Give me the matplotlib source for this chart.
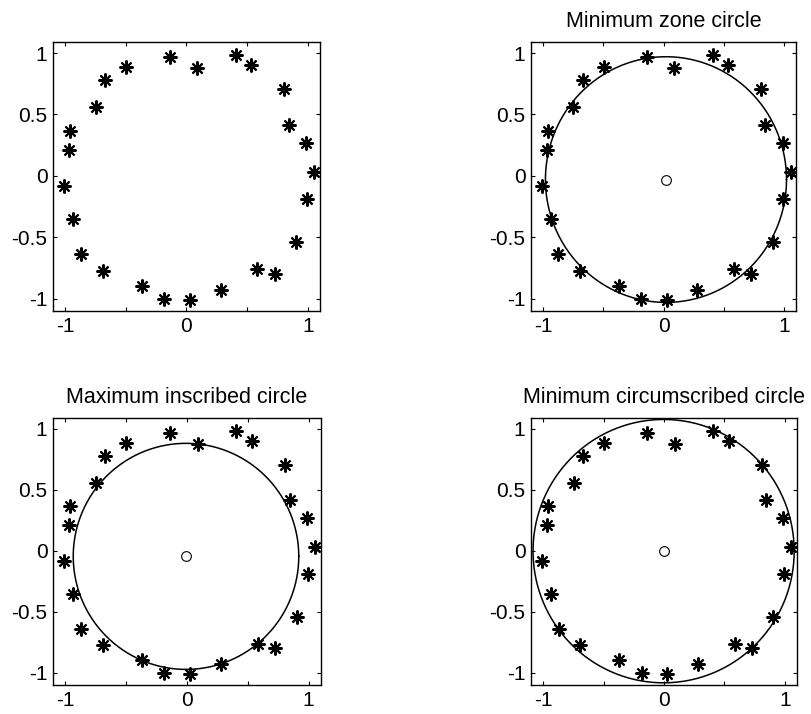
import matplotlib
matplotlib.use('Agg')
import matplotlib.pyplot as plt
import numpy as np

x_pts = [-0.138, 0.088, 0.408, 0.535, 0.808, 0.844, 0.988, 1.054, 0.993, 0.905,
         0.728, 0.585, 0.281, 0.028, -0.185, -0.370, -0.692, -0.872, -0.935, -1.010,
         -0.966, -0.957, -0.748, -0.670, -0.497]
y_pts = [0.967, 0.877, 0.985, 0.900, 0.706, 0.415, 0.271, 0.030, -0.187, -0.540,
         -0.798, -0.760, -0.925, -1.008, -1.003, -0.896, -0.771, -0.637, -0.352, -0.080,
         0.209, 0.367, 0.557, 0.782, 0.887]

titles = ['', 'Minimum zone circle', 'Maximum inscribed circle', 'Minimum circumscribed circle']
centers_x = [None, 0.02, -0.007, -0.003]
centers_y = [None, -0.03, -0.045, -0.002]
radii = [None, 1.0, 0.927, 1.08]

ticks = [-1, -0.5, 0, 0.5, 1]
xtick_labels = ['-1', '', '0', '', '1']
ytick_labels = ['-1', '-0.5', '0', '0.5', '1']

plt.rcParams['font.family'] = ['Liberation Sans', 'DejaVu Sans']

fig = plt.figure(figsize=(8.11, 7.14), dpi=100)
positions = [[0.0654, 0.5644, 0.329, 0.3768],
             [0.6547, 0.5644, 0.327, 0.3768],
             [0.0654, 0.0406, 0.330, 0.374],
             [0.6547, 0.0406, 0.328, 0.374]]

theta = np.linspace(0, 2 * np.pi, 400)
for i in range(4):
    ax = fig.add_axes(positions[i])
    ax.plot(x_pts, y_pts, linestyle='none', marker=(8, 2, 0), color='black',
            markersize=10, markeredgewidth=1.5)
    if radii[i] is not None:
        ax.plot(centers_x[i] + radii[i] * np.cos(theta),
                centers_y[i] + radii[i] * np.sin(theta), color='black', lw=1.1)
        ax.plot(centers_x[i], centers_y[i], 'o', mfc='white', mec='black',
                markersize=7, markeredgewidth=0.8)
        ax.set_title(titles[i], fontsize=15.5, pad=11)
    ax.set_xlim(-1.1, 1.1)
    ax.set_ylim(-1.1, 1.09)
    ax.set_xticks(ticks)
    ax.set_xticklabels(xtick_labels)
    ax.set_yticks(ticks)
    ax.set_yticklabels(ytick_labels)
    ax.tick_params(direction='in', top=True, right=True, length=3, labelsize=15, pad=4)
    for s in ax.spines.values():
        s.set_linewidth(1.0)

plt.savefig('out.png', dpi=100)
